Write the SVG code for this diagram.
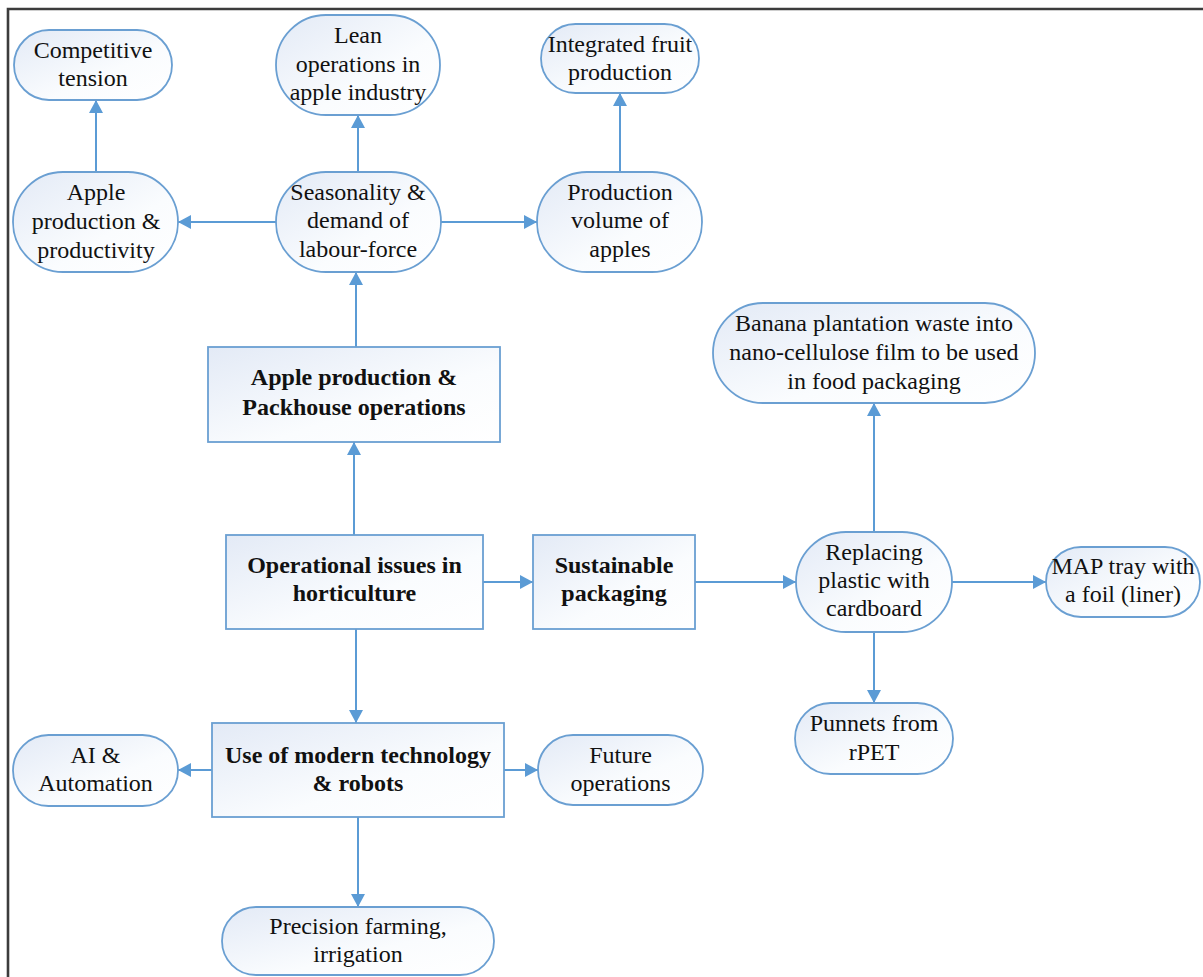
<svg xmlns="http://www.w3.org/2000/svg" width="1203" height="977" viewBox="0 0 1203 977">
<defs>
<linearGradient id="g" x1="0" y1="0" x2="1" y2="1">
<stop offset="0" stop-color="#e3eaf6"/>
<stop offset="0.6" stop-color="#fafcfe"/>
<stop offset="1" stop-color="#ffffff"/>
</linearGradient>
<marker id="ah" markerUnits="userSpaceOnUse" markerWidth="14" markerHeight="14" refX="13" refY="7" orient="auto">
<path d="M0,0 L13,7 L0,14 z" fill="#5b9bd5"/>
</marker>
<style>
.n{fill:url(#g);stroke:#6a9fd2;stroke-width:1.8}
.t{font-family:'Liberation Serif','Times New Roman',serif;font-size:24px;fill:#111;text-anchor:middle}
.b{font-weight:bold}
.c{fill:none;stroke:#5b9bd5;stroke-width:2;marker-end:url(#ah)}
</style>
</defs>
<rect width="1203" height="977" fill="#fff"/>
<path d="M8,990 V9 H1215" fill="none" stroke="#3c3c3c" stroke-width="2.6"/>
<g id="connectors">
<path class="c" d="M96,172 V100"/>
<path class="c" d="M358,172 V115"/>
<path class="c" d="M620,172 V93"/>
<path class="c" d="M276,222 H178"/>
<path class="c" d="M441,222 H537"/>
<path class="c" d="M356,347 V272"/>
<path class="c" d="M354,535 V442"/>
<path class="c" d="M483,582 H533"/>
<path class="c" d="M695,582 H796"/>
<path class="c" d="M874,532 V403"/>
<path class="c" d="M952,582 H1046"/>
<path class="c" d="M874,632 V703"/>
<path class="c" d="M356,629 V723"/>
<path class="c" d="M212,770 H178"/>
<path class="c" d="M504,770 H538"/>
<path class="c" d="M358,817 V907"/>
</g>
<g id="n_competitive"><rect class="n" x="14" y="30" width="158" height="70" rx="35"/><text class="t"><tspan x="93" y="58">Competitive</tspan><tspan x="93" y="86">tension</tspan></text></g>
<g id="n_lean"><rect class="n" x="276" y="15" width="164" height="100" rx="50"/><text class="t"><tspan x="358" y="43">Lean</tspan><tspan x="358" y="72">operations in</tspan><tspan x="358" y="100">apple industry</tspan></text></g>
<g id="n_ifp"><rect class="n" x="541" y="24" width="158" height="69" rx="34.5"/><text class="t"><tspan x="620" y="52">Integrated fruit</tspan><tspan x="620" y="80">production</tspan></text></g>
<g id="n_appleprod"><rect class="n" x="13" y="172" width="165" height="100" rx="50"/><text class="t"><tspan x="96" y="200">Apple</tspan><tspan x="96" y="229">production &amp;</tspan><tspan x="96" y="258">productivity</tspan></text></g>
<g id="n_season"><rect class="n" x="276" y="172" width="165" height="100" rx="50"/><text class="t"><tspan x="358" y="200">Seasonality &amp;</tspan><tspan x="358" y="228">demand of</tspan><tspan x="358" y="257">labour-force</tspan></text></g>
<g id="n_volume"><rect class="n" x="537" y="172" width="165" height="100" rx="50"/><text class="t"><tspan x="620" y="200">Production</tspan><tspan x="620" y="228">volume of</tspan><tspan x="620" y="257">apples</tspan></text></g>
<g id="n_packhouse"><rect class="n" x="208" y="347" width="292" height="95"/><text class="t b"><tspan x="354" y="385">Apple production &amp;</tspan><tspan x="354" y="415">Packhouse operations</tspan></text></g>
<g id="n_opissues"><rect class="n" x="226" y="535" width="257" height="94"/><text class="t b"><tspan x="354.5" y="573">Operational issues in</tspan><tspan x="354.5" y="601">horticulture</tspan></text></g>
<g id="n_sustainable"><rect class="n" x="533" y="535" width="162" height="94"/><text class="t b"><tspan x="614" y="573">Sustainable</tspan><tspan x="614" y="601">packaging</tspan></text></g>
<g id="n_banana"><rect class="n" x="713" y="303" width="322" height="100" rx="50"/><text class="t"><tspan x="874" y="331">Banana plantation waste into</tspan><tspan x="874" y="360">nano-cellulose film to be used</tspan><tspan x="874" y="389">in food packaging</tspan></text></g>
<g id="n_replacing"><rect class="n" x="796" y="532" width="156" height="100" rx="50"/><text class="t"><tspan x="874" y="560">Replacing</tspan><tspan x="874" y="588">plastic with</tspan><tspan x="874" y="616">cardboard</tspan></text></g>
<g id="n_map"><rect class="n" x="1046" y="547" width="154" height="70" rx="35"/><text class="t"><tspan x="1123" y="574">MAP tray with</tspan><tspan x="1123" y="602">a foil (liner)</tspan></text></g>
<g id="n_punnets"><rect class="n" x="795" y="703" width="158" height="71" rx="35.5"/><text class="t"><tspan x="874" y="731">Punnets from</tspan><tspan x="874" y="760">rPET</tspan></text></g>
<g id="n_use"><rect class="n" x="212" y="723" width="292" height="94"/><text class="t b"><tspan x="358" y="763">Use of modern technology</tspan><tspan x="358" y="791">&amp; robots</tspan></text></g>
<g id="n_ai"><rect class="n" x="13" y="735" width="165" height="71" rx="35.5"/><text class="t"><tspan x="95.5" y="763">AI &amp;</tspan><tspan x="95.5" y="791">Automation</tspan></text></g>
<g id="n_future"><rect class="n" x="538" y="735" width="165" height="70" rx="35"/><text class="t"><tspan x="620.5" y="763">Future</tspan><tspan x="620.5" y="791">operations</tspan></text></g>
<g id="n_precision"><rect class="n" x="222" y="907" width="272" height="68" rx="34"/><text class="t"><tspan x="358" y="934">Precision farming,</tspan><tspan x="358" y="962">irrigation</tspan></text></g>
</svg>
